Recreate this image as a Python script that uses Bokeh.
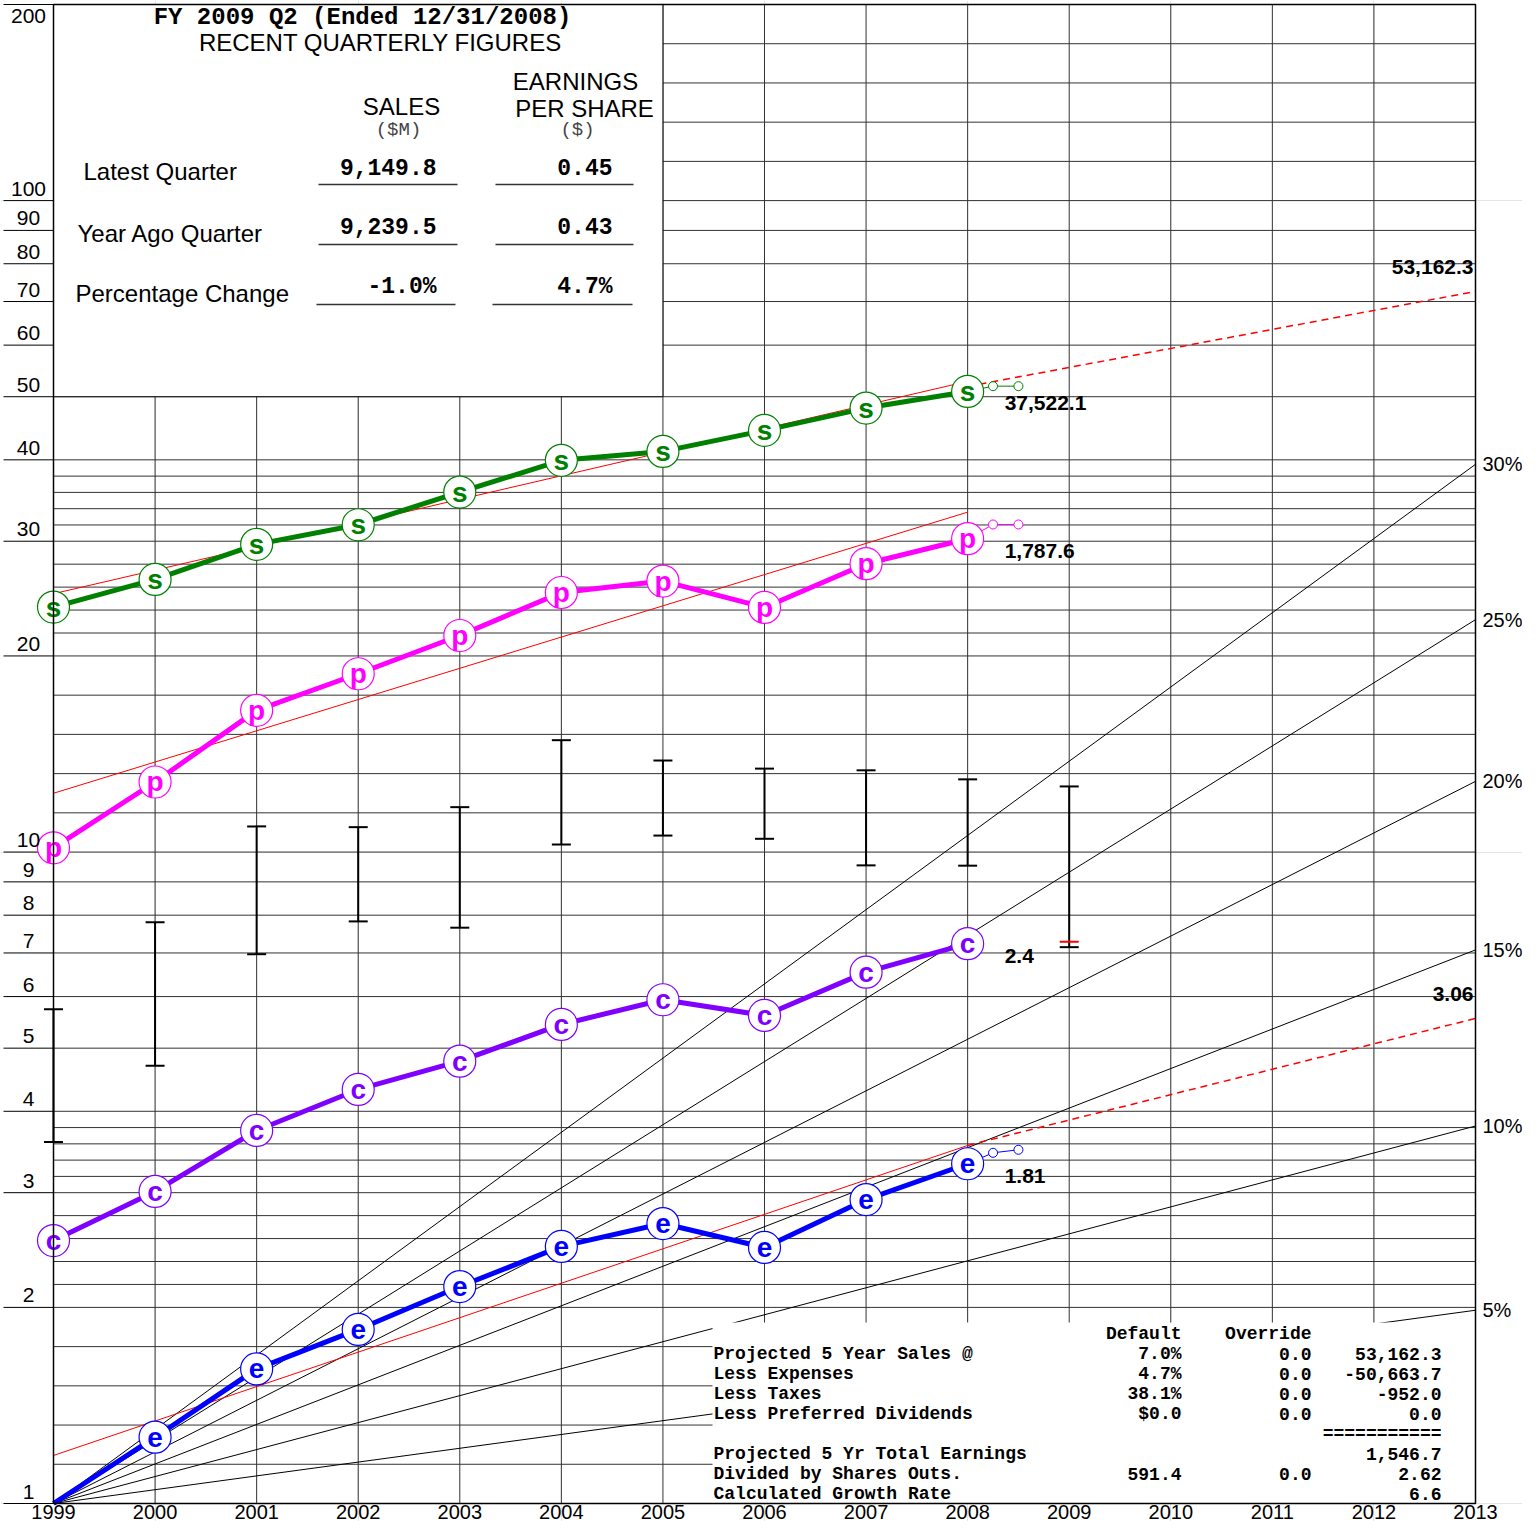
import math
from bokeh.plotting import figure
from bokeh.models import Range1d, LogScale
from bokeh.core.properties import value
from bokeh.embed import file_html
from bokeh.resources import INLINE

# ---------------- data (values in chart-axis units, log scale 1..200) ----------------
years = [1999, 2000, 2001, 2002, 2003, 2004, 2005, 2006, 2007, 2008]
sales = [23.77, 26.21, 29.67, 31.80, 35.69, 39.93, 41.21, 44.39, 48.03, 50.94]
pretax = [10.15, 12.81, 16.50, 18.78, 21.50, 25.03, 26.06, 23.74, 27.71, 30.27]
cashflow = [2.533, 3.013, 3.738, 4.321, 4.775, 5.437, 5.933, 5.613, 6.541, 7.234]
eps = [1.0, 1.264, 1.609, 1.850, 2.153, 2.481, 2.690, 2.472, 2.928, 3.323]

ttm_years = [2008.25, 2008.5]
sales_ttm = [51.90, 51.90]
pretax_ttm = [31.83, 31.83]
eps_ttm = [3.454, 3.491]

price_years = [1999, 2000, 2001, 2002, 2003, 2004, 2005, 2006, 2007, 2008, 2009]
price_high = [5.739, 7.806, 10.95, 10.92, 11.72, 14.85, 13.82, 13.43, 13.35, 12.93, 12.61]
price_low = [3.587, 4.698, 6.970, 7.826, 7.654, 10.27, 10.60, 10.48, 9.54, 9.53, 7.145]
current_year = [2009]
current_price = [7.283]

trend_years = [1999, 2008]
sales_trend = [24.92, 52.78]
pretax_trend = [12.31, 33.25]
eps_trend = [1.185, 3.545]
proj_years = [2008, 2013]
sales_proj = [51.85, 72.54]
eps_proj = [3.545, 5.554]

growth_rates = [5, 10, 15, 20, 25, 30]
axis_ticks = [1, 2, 3, 4, 5, 6, 7, 8, 9, 10, 20, 30, 40, 50, 60, 70, 80, 90, 100, 200]
axis_tick_labels = [str(t) for t in axis_ticks]
year_ticks = list(range(1999, 2014))

last_labels = ["37,522.1", "1,787.6", "2.4", "1.81"]
proj_labels = ["53,162.3", "3.06"]

title_line = "FY 2009 Q2 (Ended 12/31/2008)"
subtitle_line = "RECENT QUARTERLY FIGURES"
quarter_rows = ["Latest Quarter", "Year Ago Quarter", "Percentage Change"]
quarter_sales = ["9,149.8", "9,239.5", "-1.0%"]
quarter_eps = ["0.45", "0.43", "4.7%"]

calc_rows = ["Projected 5 Year Sales @", "Less Expenses", "Less Taxes",
             "Less Preferred Dividends", "", "Projected 5 Yr Total Earnings",
             "Divided by Shares Outs.", "Calculated Growth Rate"]
calc_default = ["7.0%", "4.7%", "38.1%", "$0.0", "", "", "591.4", ""]
calc_override = ["0.0", "0.0", "0.0", "0.0", "", "", "0.0", ""]
calc_amount = ["53,162.3", "-50,663.7", "-952.0", "0.0", "===========",
               "1,546.7", "2.62", "6.6"]

# ---------------- layout helpers (canvas pixel -> data) ----------------
LEFT_PX, RIGHT_PX, TOP_PX, BOTTOM_PX = 53, 1475, 4, 1503
PPY = (RIGHT_PX - LEFT_PX) / 14.0
K = (BOTTOM_PX - TOP_PX) / math.log10(200)


def X(px):
    return 1999 + (px - LEFT_PX) / PPY


def Y(py):
    return 10 ** ((BOTTOM_PX - py) / K)


def PY(v):
    return BOTTOM_PX - K * math.log10(v)


W, H = 1522, 1521

SANS = value("Liberation Sans")
MONO = value("Liberation Mono")
GREEN, MAGENTA, PURPLE, BLUE = "#008000", "#ff00ff", "#7f00ff", "#0000ff"
GRID = "#333333"

p = figure(width=W, height=H,
           x_range=Range1d(X(0), X(W)),
           y_range=Range1d(Y(H), Y(0)),
           y_axis_type="log", x_axis_location=None, y_axis_location=None,
           output_backend="svg", toolbar_location=None, min_border=0)
p.y_scale = LogScale()
p.outline_line_color = None
p.background_fill_color = "white"
p.border_fill_color = "white"

# ---------------- grid ----------------
sub_pairs = [(1, 2), (2, 3), (3, 4), (10, 20), (20, 30), (30, 40), (100, 200)]
minor_vals = [a * (b / a) ** (i / 5) for a, b in sub_pairs for i in range(1, 5)]
hvals = axis_ticks + minor_vals
p.segment(x0=[1999] * len(hvals), y0=hvals, x1=[2013] * len(hvals), y1=hvals,
          line_color=GRID, line_width=1)
vyears = year_ticks[1:-1]
p.segment(x0=vyears, y0=[1] * len(vyears), x1=vyears, y1=[200] * len(vyears),
          line_color=GRID, line_width=1)
# left tick marks under the labels
p.segment(x0=[X(3)] * len(axis_ticks), y0=axis_ticks, x1=[1999] * len(axis_ticks),
          y1=axis_ticks, line_color="black", line_width=1)

# growth-rate fan lines
g_end = [(1 + r / 100.0) ** 14 for r in growth_rates]
p.segment(x0=[1999] * len(g_end), y0=[1] * len(g_end), x1=[2013] * len(g_end), y1=g_end,
          line_color="black", line_width=1)

# table backgrounds
p.quad(left=[1999], right=[2005], bottom=[50], top=[200], fill_color="white",
       line_color="black", line_width=1)
p.quad(left=[X(712)], right=[2013], bottom=[1], top=[Y(1322)], fill_color="white",
       line_color=None)

# ---------------- price range bars ----------------
p.segment(x0=price_years, y0=price_low, x1=price_years, y1=price_high,
          line_color="black", line_width=2)
p.scatter(price_years, price_high, marker="dash", size=19, line_color="black", line_width=2)
p.scatter(price_years, price_low, marker="dash", size=19, line_color="black", line_width=2)
p.scatter(current_year, current_price, marker="dash", size=19, line_color="red", line_width=2)

# ---------------- trend lines ----------------
for tv in (sales_trend, pretax_trend, eps_trend):
    p.line(trend_years, tv, line_color="red", line_width=1)
for pv in (sales_proj, eps_proj):
    p.line(proj_years, pv, line_color="red", line_width=1.5, line_dash="7 5")

# ---------------- series ----------------
series = [(sales, GREEN, "s", sales_ttm), (pretax, MAGENTA, "p", pretax_ttm),
          (cashflow, PURPLE, "c", None), (eps, BLUE, "e", eps_ttm)]
for vals, col, letter, ttm in series:
    p.line(years, vals, line_color=col, line_width=5)
    if ttm is not None:
        p.line([years[-1]] + ttm_years, [vals[-1]] + ttm, line_color=col, line_width=1)
        p.scatter(ttm_years, ttm, size=9, fill_color="white", line_color=col, line_width=1)
for vals, col, letter, ttm in series:
    xs = years[1:] if letter == "e" else years
    ys = vals[1:] if letter == "e" else vals
    p.scatter(xs, ys, size=32, fill_color="white", line_color=col, line_width=1.2)
    p.text(xs, ys, text=[letter] * len(xs), text_color=col, text_font=SANS,
           text_font_style="bold", text_font_size="28px", text_align="center",
           text_baseline="middle")

# last value labels
p.text([2008] * 4, [sales[-1], pretax[-1], cashflow[-1], eps[-1]], text=last_labels,
       x_offset=37, y_offset=12, text_font=SANS, text_font_style="bold",
       text_font_size="21px", text_align="left", text_baseline="middle", text_color="black")
p.text([2013, 2013], [sales_proj[-1], eps_proj[-1]], text=proj_labels,
       x_offset=-2, y_offset=-24, text_font=SANS, text_font_style="bold",
       text_font_size="21px", text_align="right", text_baseline="middle", text_color="black")

# frame border
p.quad(left=[1999], right=[2013], bottom=[1], top=[200], fill_color=None,
       line_color="black", line_width=1.5)

# ---------------- axis labels ----------------
lab_y = [Y(max(PY(v) - 12, 15)) for v in axis_ticks]
p.text([X(28)] * len(axis_ticks), lab_y, text=axis_tick_labels, text_font=SANS,
       text_font_size="21px", text_align="center", text_baseline="middle", text_color="black")
p.text(year_ticks, [Y(1511)] * len(year_ticks), text=[str(y) for y in year_ticks],
       text_font=SANS, text_font_size="20px", text_align="center", text_baseline="middle",
       text_color="black")
p.text([X(1482)] * len(g_end), g_end, text=[f"{r}%" for r in growth_rates], text_font=SANS,
       text_font_size="20px", text_align="left", text_baseline="middle", text_color="black")

# ---------------- recent quarterly table ----------------
p.text([X(362)], [Y(17)], text=[title_line], text_font=MONO, text_font_style="bold",
       text_font_size="24px", text_align="center", text_baseline="middle", text_color="black")
p.text([X(380)], [Y(42)], text=[subtitle_line], text_font=SANS, text_font_size="24px",
       text_align="center", text_baseline="middle", text_color="black")
p.text([X(401), X(575), X(584)], [Y(106), Y(81), Y(108)],
       text=["SALES", "EARNINGS", "PER SHARE"], text_font=SANS, text_font_size="24px",
       text_align="center", text_baseline="middle", text_color="black")
p.text([X(398), X(577)], [Y(129), Y(129)], text=["($M)", "($)"], text_font=MONO,
       text_font_size="19px", text_align="center", text_baseline="middle", text_color="#444444")
row_label_x = [X(83), X(77), X(75)]
row_label_y = [Y(171), Y(233), Y(293)]
row_val_y = [Y(166), Y(225), Y(286)]
row_line_y = [Y(184), Y(244), Y(304)]
p.text(row_label_x, row_label_y, text=quarter_rows, text_font=SANS, text_font_size="24px",
       text_align="left", text_baseline="middle", text_color="black")
p.text([X(436)] * 3, row_val_y, text=quarter_sales, text_font=MONO, text_font_style="bold",
       text_font_size="23px", text_align="right", text_baseline="middle", text_color="black")
p.text([X(612)] * 3, row_val_y, text=quarter_eps, text_font=MONO, text_font_style="bold",
       text_font_size="23px", text_align="right", text_baseline="middle", text_color="black")
p.segment(x0=[X(318), X(318), X(316)], y0=row_line_y, x1=[X(457), X(457), X(455)],
          y1=row_line_y, line_color="#333333", line_width=1.5)
p.segment(x0=[X(495), X(495), X(492)], y0=row_line_y, x1=[X(633), X(633), X(632)],
          y1=row_line_y, line_color="#333333", line_width=1.5)

# ---------------- projection table ----------------
calc_y = [Y(1353 + 20.1 * i) for i in range(len(calc_rows))]
p.text([X(1181), X(1311)], [Y(1333), Y(1333)], text=["Default", "Override"], text_font=MONO,
       text_font_style="bold", text_font_size="18px", text_align="right",
       text_baseline="middle", text_color="black")
p.text([X(713)] * len(calc_rows), calc_y, text=calc_rows, text_font=MONO,
       text_font_style="bold", text_font_size="18px", text_align="left",
       text_baseline="middle", text_color="black")
p.text([X(1181)] * len(calc_rows), calc_y, text=calc_default, text_font=MONO,
       text_font_style="bold", text_font_size="18px", text_align="right",
       text_baseline="middle", text_color="black")
p.text([X(1311)] * len(calc_rows), calc_y, text=calc_override, text_font=MONO,
       text_font_style="bold", text_font_size="18px", text_align="right",
       text_baseline="middle", text_color="black")
p.text([X(1441)] * len(calc_rows), calc_y, text=calc_amount, text_font=MONO,
       text_font_style="bold", text_font_size="18px", text_align="right",
       text_baseline="middle", text_color="black")

open("out.html", "w").write(file_html(p, INLINE))
